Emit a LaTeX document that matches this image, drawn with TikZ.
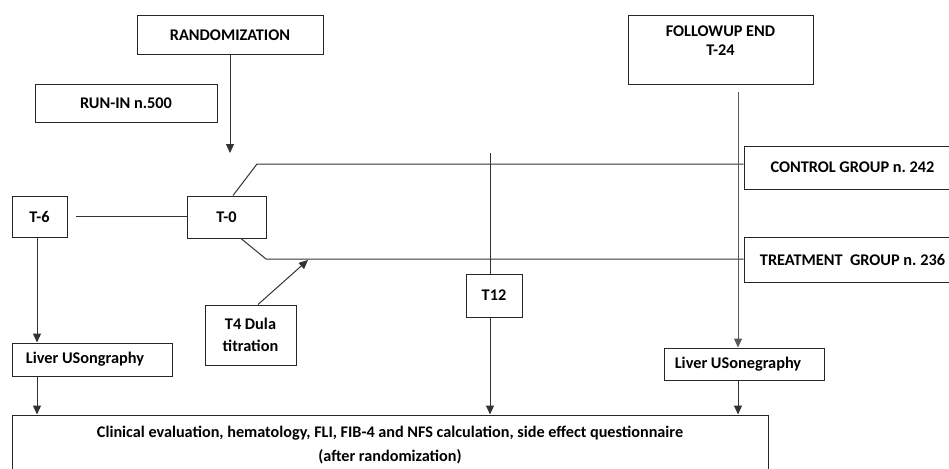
\documentclass[tikz,border=0pt]{standalone}
\usepackage{fontspec}
\setmainfont{Carlito}
\usetikzlibrary{arrows.meta}

\begin{document}
\begin{tikzpicture}[x=1pt,y=-1pt,
	box/.style={draw=black!85,line width=1pt,inner sep=0pt,align=center,font=\fontsize{16.3}{19}\selectfont\bfseries},
	link/.style={draw=black!80,line width=1pt},
	arr/.style={link,-{Triangle[width=8pt,length=9pt]}}]
	\useasboundingbox (0,0) rectangle (949,468);
	\clip (0,0) rectangle (949,468);
	% boxes
	\node[box,minimum width=186,minimum height=39] (rand) at (230,35.5) {RANDOMIZATION};
	\node[box,minimum width=182,minimum height=37] (runin) at (126,103.5) {RUN-IN n.500};
	\node[box,minimum width=185,minimum height=69] (fup) at (720.5,50.5) {FOLLOWUP END\\T-24\\\mbox{}};
	\node[box,minimum width=55,minimum height=41] (t6) at (39.5,216.5) {T-6};
	\node[box,minimum width=79,minimum height=42] (t0) at (226.5,217) {T-0};
	\node[box,minimum width=217,minimum height=43] (ctrl) at (852.5,167.5) {CONTROL GROUP n.\ 242};
	\node[box,minimum width=217,minimum height=45] (treat) at (852.5,259.5) {TREATMENT\ \ GROUP n.\ 236};
	\node[box,minimum width=56,minimum height=43] (t12) at (494,295.5) {T12};
	\node[box,minimum width=91,minimum height=60,font=\fontsize{16.3}{22}\selectfont\bfseries] (t4) at (250.5,335) {T4 Dula\\titration};
	\node[box,minimum width=160,minimum height=33] (liv1) at (92,359.5) {Liver USongraphy\hspace{14pt}};
	\node[box,minimum width=160,minimum height=32] (liv2) at (744,364) {Liver USonegraphy\hspace{12pt}};
	\node[box,minimum width=756,minimum height=60,font=\fontsize{16.2}{24}\selectfont\bfseries] (eval) at (390,445)
		{Clinical evaluation, hematology, FLI, FIB-4 and NFS calculation, side effect questionnaire\\(after randomization)};
	% free ends
	\coordinate (r1) at (230,153); %randomization
	\coordinate (up) at (257,164); %control arm
	\coordinate (dn) at (266,259); %treatment arm
	\coordinate (a4) at (308,260); %titration
	\coordinate (m12) at (490,153); %T12 line
	\coordinate (f1) at (738,92); %followup line
	% connectors
	\draw[arr] (rand) -- (r1);
	\draw[link,shorten <=8pt] (t6.east) -- (t6.east -| t0.west);
	\draw[link] ([xshift=6.5pt]t0.north) -- (up) -- (up -| ctrl.west);
	\draw[link] ([xshift=14.5pt]t0.south) -- (dn) -- (dn -| treat.west);
	\draw[arr] ([xshift=7.5pt]t4.north) -- (a4);
	\draw[link] (m12) -- (m12 |- t12.north);
	\draw[arr] (m12 |- t12.south) -- (m12 |- eval.north);
	\draw[link,draw=black!65] (f1) -- (f1 |- ctrl.north);
	\draw[arr,draw=black!65] (f1 |- ctrl.north) -- (f1 |- liv2.north);
	\draw[arr] ([xshift=-2.5pt]t6.south) -- ([xshift=-2.5pt]t6.south |- liv1.north);
	\draw[arr] ([xshift=-2.5pt]t6.south |- liv1.south) -- ([xshift=-2.5pt]t6.south |- eval.north);
	\draw[arr] (f1 |- liv2.south) -- (f1 |- eval.north);
\end{tikzpicture}
\end{document}
